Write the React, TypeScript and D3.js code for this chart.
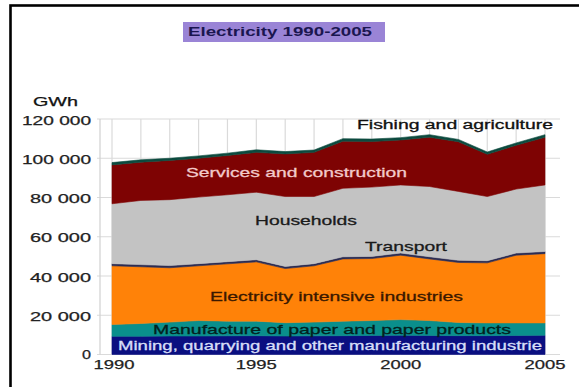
import React from "react";
import * as d3 from "d3";

const years = [1990, 1991, 1992, 1993, 1994, 1995, 1996, 1997, 1998, 1999, 2000, 2001, 2002, 2003, 2004, 2005];
const mining = [9300, 9300, 9400, 9400, 9500, 9600, 9400, 9500, 9600, 9700, 9800, 9700, 9600, 9600, 9700, 9800];
const paper = [6000, 6500, 7100, 7900, 7500, 7400, 6800, 7000, 7400, 7600, 8000, 7600, 6700, 6500, 6400, 6300];
const intensive = [29900, 28900, 27700, 27900, 29200, 30200, 27600, 28700, 31700, 31600, 32800, 31400, 30600, 30600, 34500, 35300];
const transport = [1100, 1100, 1100, 1100, 1100, 1100, 1100, 1100, 1100, 1100, 1100, 1100, 1100, 1100, 1100, 1100];
const households = [30500, 32700, 33600, 33900, 34100, 34400, 35600, 34200, 34900, 35300, 34700, 35800, 35100, 32700, 32600, 33900];
const services = [19800, 19500, 20000, 19800, 20000, 20300, 21700, 22500, 24000, 23200, 22900, 25100, 25300, 21500, 22300, 24300];
const fishing = [1200, 1200, 1100, 1200, 1200, 1300, 1200, 1200, 1300, 1300, 1200, 1300, 1200, 1200, 1200, 1300];

const seriesKeys = ["mining", "paper", "intensive", "transport", "households", "services", "fishing"];
const seriesColors: Record<string, string> = {
  mining: "#0a0f80",
  paper: "#0a8f8c",
  intensive: "#ff8208",
  transport: "#2c2c52",
  households: "#c3c3c3",
  services: "#7e0303",
  fishing: "#0c4a3e",
};
const yTicks = [0, 20000, 40000, 60000, 80000, 100000, 120000];
const xTickYears = [1990, 1995, 2000, 2005];
const title = "Electricity 1990-2005";
const unitLabel = "GWh";

const seriesLabels = [
  { text: "Fishing and agriculture", x: 357, y: 129, w: 196, size: 12.5, color: "#111" },
  { text: "Services and construction", x: 186, y: 176.5, w: 221, size: 13.5, color: "#f2caca" },
  { text: "Households", x: 255, y: 225, w: 102, size: 13.5, color: "#1a1a1a" },
  { text: "Transport", x: 365, y: 250.5, w: 82, size: 13.5, color: "#1a1a1a" },
  { text: "Electricity intensive industries", x: 210, y: 301, w: 253, size: 13.5, color: "#3a1800" },
  { text: "Manufacture of paper and paper products", x: 153, y: 334, w: 358, size: 13.5, color: "#03211e" },
  { text: "Mining, quarrying and other manufacturing industrie", x: 118, y: 350, w: 424, size: 12.5, color: "#d6def8" },
];

const fmt = (v: number) => (v === 0 ? "0" : d3.format(",")(v).replace(/,/g, " "));

export default function App() {
  const W = 579, H = 387;
  const x = d3.scaleLinear().domain([1990, 2005]).range([112, 545]);
  const y = d3.scaleLinear().domain([0, 120000]).range([354.5, 119]);

  const table = years.map((yr, i) => ({
    year: yr,
    mining: mining[i],
    paper: paper[i],
    intensive: intensive[i],
    transport: transport[i],
    households: households[i],
    services: services[i],
    fishing: fishing[i],
  }));
  const stack = d3.stack<any>().keys(seriesKeys)(table);
  const area = d3
    .area<any>()
    .x((d) => x(d.data.year))
    .y0((d) => y(d[0]))
    .y1((d) => y(d[1]));

  const font = "'Liberation Sans', Arial, sans-serif";

  return (
    <svg width={W} height={H} style={{ position: "absolute", left: 0, top: 0, background: "#fff" }}>
      <rect x={0} y={0} width={W} height={H} fill="#fff" />
      {/* outer frame */}
      <rect x={10.5} y={5.5} width={640} height={420} fill="none" stroke="#000" strokeWidth={2.6} />
      {/* title box */}
      <rect x={183} y={22} width={202} height={20} fill="#9a84d6" />
      <text x={188} y={36} fontFamily={font} fontWeight="bold" fontSize={12} fill="#1b1650" textLength={184} lengthAdjust="spacingAndGlyphs">
        {title}
      </text>
      {/* unit */}
      <text x={33} y={106} fontFamily={font} fontSize={12.5} fill="#111" stroke="#111" strokeWidth={0.25} textLength={45} lengthAdjust="spacingAndGlyphs">
        {unitLabel}
      </text>
      {/* grid */}
      {yTicks.map((t) => (
        <line key={"h" + t} x1={97} x2={560} y1={y(t)} y2={y(t)} stroke="#dadada" strokeWidth={1.2} />
      ))}
      {years.map((yr) => (
        <line key={"v" + yr} x1={x(yr)} x2={x(yr)} y1={y(120000)} y2={y(0)} stroke="#dadada" strokeWidth={1.2} />
      ))}
      <line x1={100} x2={100} y1={y(120000)} y2={y(0)} stroke="#d0d0d0" strokeWidth={1.2} />
      {/* areas */}
      {stack.map((s) => (
        <path key={s.key} d={area(s) || ""} fill={seriesColors[s.key]} stroke={seriesColors[s.key]} strokeWidth={0.6} />
      ))}
      {/* y tick labels */}
      {yTicks.map((t) => {
        const s = fmt(t);
        const w = t === 0 ? 9 : s.length === 7 ? 69 : 61;
        return (
          <text key={"yl" + t} x={91} y={t === 0 ? 359 : y(t) + 5.5} textAnchor="end" fontFamily={font} fontSize={12.5} fill="#222" stroke="#222" strokeWidth={0.25} textLength={w} lengthAdjust="spacingAndGlyphs">
            {s}
          </text>
        );
      })}
      {/* x tick labels */}
      {xTickYears.map((yr) => (
        <text key={"xl" + yr} x={x(yr) - 20.5 + (yr === 1990 ? 2 : 0)} y={369} fontFamily={font} fontSize={12.5} fill="#222" stroke="#222" strokeWidth={0.25} textLength={41} lengthAdjust="spacingAndGlyphs">
          {yr}
        </text>
      ))}
      {/* series labels */}
      {seriesLabels.map((l) => (
        <text key={l.text} x={l.x} y={l.y} fontFamily={font} fontSize={l.size} fill={l.color} stroke={l.color} strokeWidth={0.3} textLength={l.w} lengthAdjust="spacingAndGlyphs">
          {l.text}
        </text>
      ))}
    </svg>
  );
}
